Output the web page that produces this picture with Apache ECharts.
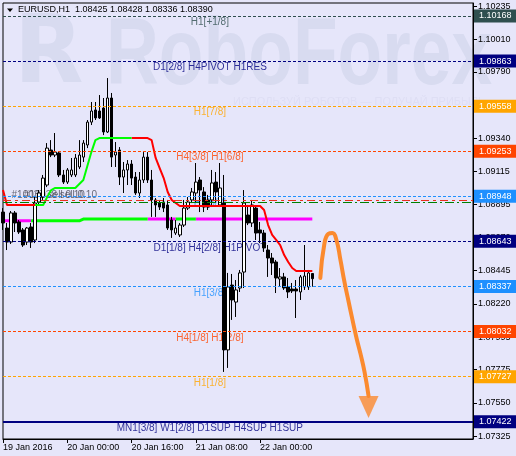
<!DOCTYPE html>
<html><head><meta charset="utf-8">
<script src="https://cdn.jsdelivr.net/npm/echarts@6/dist/echarts.min.js"></script>
<style>html,body{margin:0;padding:0;background:#e6e6fa}#c{width:516px;height:456px}</style>
</head><body><div id="c"></div>
<script>
// ---------- DATA ----------
const symbolName = 'EURUSD,H1';
const tickLabels = ['19 Jan 2016', '20 Jan 00:00', '20 Jan 16:00', '21 Jan 08:00', '22 Jan 00:00'];
const barsTotal = 118; // hourly slots shown on the axis (data + empty future space)
const yTicks = [1.10235, 1.10010, 1.09790, 1.09565, 1.09340, 1.09115, 1.08895, 1.08670, 1.08445, 1.08220, 1.07995, 1.07775, 1.07550, 1.07325];

const opens = [1.08841,1.08733,1.08638,1.08835,1.08774,1.08720,1.08638,1.08740,1.08652,1.08909,
1.08943,1.09024,1.09261,1.09227,1.09241,1.09092,1.09044,1.09092,1.09092,1.09146,
1.09213,1.09295,1.09450,1.09532,1.09525,1.09545,1.09383,1.09613,1.09227,1.09261,
1.09078,1.09126,1.09166,1.09078,1.08970,1.09058,1.09213,1.09058,1.08923,1.08902,
1.08909,1.08889,1.08787,1.08699,1.08686,1.08753,1.08868,1.08923,1.08970,1.09058,
1.08977,1.08923,1.08923,1.09044,1.08889,1.08902,1.07908,1.08347,1.08232,1.08327,
1.08435,1.08821,1.08767,1.08868,1.08720,1.08699,1.08584,1.08530,1.08503,1.08388,
1.08402,1.08334,1.08320,1.08320,1.08300,1.08334,1.08334,1.08425];
const closes = [1.08767,1.08638,1.08835,1.08767,1.08706,1.08618,1.08733,1.08638,1.08902,1.08970,
1.09071,1.09274,1.09227,1.09247,1.09092,1.09044,1.09126,1.09126,1.09207,1.09227,
1.09308,1.09450,1.09525,1.09478,1.09478,1.09383,1.09613,1.09213,1.09247,1.09078,
1.09126,1.09166,1.09071,1.08970,1.09058,1.09213,1.09058,1.08923,1.08889,1.08875,
1.08868,1.08733,1.08720,1.08733,1.08753,1.08868,1.08909,1.08977,1.09044,1.08990,
1.08875,1.08875,1.09038,1.08977,1.09004,1.07908,1.08334,1.08246,1.08314,1.08429,
1.08902,1.08767,1.08889,1.08699,1.08699,1.08598,1.08530,1.08496,1.08395,1.08402,
1.08327,1.08300,1.08307,1.08307,1.08402,1.08408,1.08429,1.08390];
const highs = [1.08868,1.08767,1.08848,1.08848,1.08787,1.08733,1.08740,1.08767,1.08943,1.08990,
1.09092,1.09308,1.09328,1.09376,1.09247,1.09126,1.09139,1.09207,1.09234,1.09328,
1.09328,1.09464,1.09586,1.09586,1.09633,1.09613,1.09748,1.09647,1.09315,1.09281,
1.09180,1.09193,1.09193,1.09112,1.09112,1.09247,1.09247,1.09126,1.08936,1.08923,
1.08936,1.08923,1.08808,1.08787,1.08767,1.08923,1.08943,1.09004,1.09173,1.09078,
1.09010,1.08957,1.09126,1.09112,1.09173,1.09092,1.08429,1.08422,1.08381,1.08449,
1.08990,1.08889,1.08923,1.08882,1.08774,1.08720,1.08618,1.08564,1.08517,1.08462,
1.08429,1.08395,1.08361,1.08381,1.08415,1.08618,1.08449,1.08428];
const lows = [1.08720,1.08584,1.08625,1.08706,1.08693,1.08605,1.08618,1.08598,1.08631,1.08889,
1.08923,1.09010,1.09213,1.09213,1.09078,1.09031,1.09031,1.09078,1.09078,1.09132,
1.09180,1.09274,1.09430,1.09464,1.09471,1.09362,1.09376,1.09146,1.09146,1.09024,
1.08970,1.09024,1.09024,1.08957,1.08936,1.09038,1.09038,1.08808,1.08808,1.08855,
1.08841,1.08720,1.08666,1.08686,1.08672,1.08740,1.08855,1.08902,1.08902,1.08841,
1.08841,1.08855,1.08875,1.08909,1.08875,1.07759,1.07786,1.08111,1.08131,1.08300,
1.08327,1.08753,1.08740,1.08652,1.08631,1.08571,1.08402,1.08415,1.08293,1.08334,
1.08314,1.08259,1.08293,1.08124,1.08246,1.08314,1.08314,1.08336];

// upper trailing line: red (down) / green (up) parts
const trendRed = [1.08990,1.08889,1.08889,1.08889,1.08889,1.08889,1.08889,1.08889,1.08889,null,
null,null,null,null,null,null,null,null,null,null,
null,null,null,null,null,null,null,null,null,null,
null,null,1.09342,1.09342,1.09342,1.09342,1.09342,1.09328,1.09207,1.09139,
1.09071,1.08977,1.08923,1.08902,1.08882,1.08882,1.08882,1.08882,1.08882,1.08882,
1.08882,1.08882,1.08882,1.08882,1.08882,1.08882,1.08882,1.08882,1.08882,1.08882,
1.08882,1.08882,1.08882,1.08882,1.08882,1.08855,1.08753,1.08686,1.08652,1.08618,
1.08550,1.08503,1.08462,1.08442,1.08442,1.08442,1.08442,1.08442];
const trendGreen = [null,null,null,null,null,null,null,null,1.08889,1.08889,
1.08889,1.08943,1.08990,1.09004,1.09004,1.09004,1.09004,1.09004,1.09004,1.09031,
1.09058,1.09153,1.09247,1.09328,1.09342,1.09342,1.09342,1.09342,1.09342,1.09342,
1.09342,1.09342,1.09342];
// lower line: magenta / green parts
const lowerMagenta = [1.08782,1.08782,1.08782,1.08782,1.08782,1.08782,1.08782,1.08782,null,null,
null,null,null,null,null,null,null,null,null,null,
null,null,null,null,null,null,null,null,null,null,
null,null,null,null,null,null,1.08794,1.08794,1.08794,1.08794,
1.08794,1.08794,1.08794,1.08794,null,null,null,null,1.08794,1.08794,
1.08794,1.08794,1.08794,1.08794,1.08794,1.08794,1.08794,1.08794,1.08794,1.08794,
1.08794,1.08794,1.08794,1.08794,1.08794,1.08794,1.08794,1.08794,1.08794,1.08794,
1.08794,1.08794,1.08794,1.08794,1.08794,1.08794,1.08794,1.08794];
const lowerGreen = [null,null,null,null,null,null,null,1.08782,1.08782,1.08782,
1.08782,1.08782,1.08782,1.08782,1.08782,1.08782,1.08782,1.08782,1.08782,1.08782,
1.08794,1.08794,1.08794,1.08794,1.08794,1.08794,1.08794,1.08794,1.08794,1.08794,
1.08794,1.08794,1.08794,1.08794,1.08794,1.08794,1.08794,null,null,null,
null,null,null,1.08794,1.08794,1.08794,1.08794,1.08794,1.08794];

// Murrey-style levels
const levelValues = [1.10168, 1.09863, 1.09558, 1.09253, 1.08948, 1.08643, 1.08337, 1.08032, 1.07727, 1.07422];
const levelNames = ['H1[+1/8]', 'D1[2/8] H4PIVOT H1RES', 'H1[7/8]', 'H4[3/8] H1[6/8]', 'H1[5/8]',
  'D1[1/8] H4[2/8] H1PIVOT', 'H1[3/8]', 'H4[1/8] H1[2/8]', 'H1[1/8]', 'MN1[3/8] W1[2/8] D1SUP H4SUP H1SUP'];
const currentPrice = 1.08390;
const orderLevels = [1.08923, 1.08906];
const orderTexts = ['#10037 sell 0.10', '#10038 sell 0.10'];
const orderTextPrice = 1.08956;

// forecast arrow path (bar index, price)
const arrowIdx = [79, 80, 81, 82, 83, 84, 85, 86, 87, 88, 89, 90, 91];
const arrowVals = [1.08395, 1.08625, 1.08693, 1.08699, 1.08652, 1.08517, 1.08368, 1.08239, 1.08111, 1.07989, 1.07881, 1.07759, 1.07596];

// ---------- STYLE / BUILD ----------
const levelColors = ['#2f4f4f', '#000080', '#ffa500', '#ff4500', '#1e90ff', '#000080', '#1e90ff', '#ff4500', '#ffa500', '#000080'];
const FONT = 'Liberation Sans';
const categories = [];
for (let i = 0; i < barsTotal; i++) categories.push('h' + i);
const candleData = opens.map((o, i) => [o, closes[i], lows[i], highs[i]]);

const boxLabel = (bg) => ({
  show: true, position: 'end', distance: 1, color: '#fff', backgroundColor: bg,
  fontSize: 9, fontFamily: FONT, lineHeight: 10, padding: [2, 8, 1, 5]
});

const markLines = levelValues.map((v, k) => ({
  yAxis: v,
  lineStyle: { color: levelColors[k], type: k === 9 ? 'solid' : [3, 2], width: k === 9 ? 2 : 1 },
  label: Object.assign(boxLabel(levelColors[k]), { formatter: v.toFixed(5) })
}));
markLines.push({ yAxis: orderLevels[0], lineStyle: { color: '#e8301c', type: [8, 4, 3, 4], width: 1 }, label: { show: false } });
markLines.push({ yAxis: orderLevels[1], lineStyle: { color: '#008000', type: [9, 3, 2, 3], width: 1 }, label: { show: false } });
markLines.push({ yAxis: currentPrice, lineStyle: { opacity: 0 }, label: Object.assign(boxLabel('#000'), { formatter: currentPrice.toFixed(5) }) });

const textIdx = 51;
const last = opens.length - 1;
const headerText = symbolName + '  ' + [opens[last], highs[last], lows[last], closes[last]].map(v => v.toFixed(5)).join(' ');

const option = {
  animation: false,
  backgroundColor: '#e6e6fa',
  grid: { left: 3, right: 43, top: 3, bottom: 17, show: true, borderColor: '#000', borderWidth: 1, backgroundColor: 'transparent' },
  xAxis: {
    type: 'category', data: categories, boundaryGap: false,
    axisLine: { show: true, lineStyle: { color: '#000' } },
    axisTick: { show: true, length: 4, lineStyle: { color: '#000' }, interval: (i) => i % 16 === 0 && i / 16 < tickLabels.length },
    axisLabel: {
      show: true, interval: (i) => i % 16 === 0 && i / 16 < tickLabels.length,
      formatter: (v, i) => tickLabels[i / 16] || '', align: 'left', margin: 4,
      color: '#000', fontSize: 9, fontFamily: FONT
    },
    splitLine: { show: false }
  },
  yAxis: {
    type: 'value', position: 'right', min: 1.07305, max: 1.10256,
    axisLine: { show: true, lineStyle: { color: '#000' } },
    axisTick: { show: true, length: 4, lineStyle: { color: '#000' }, customValues: yTicks },
    axisLabel: { show: true, customValues: yTicks, formatter: (v) => v.toFixed(5), color: '#000', fontSize: 9, fontFamily: FONT, margin: 5 },
    splitLine: { show: false }
  },
  graphic: [
    { type: 'text', x: 14, y: 10, z: -10, scaleX: 0.95, silent: true, style: { text: 'R', fontSize: 95, fontWeight: 'bold', fontFamily: 'DejaVu Sans', fill: '#d8dbf0', verticalAlign: 'top' } },
    { type: 'text', x: 106, y: 10, z: -10, scaleX: 0.77, silent: true, style: { text: 'RoboForex', fontSize: 95, fontWeight: 'bold', fontFamily: FONT, fill: '#d8dbf0', verticalAlign: 'top' } },
    { type: 'text', x: 233, y: 96, z: -10, silent: true, style: { text: 'ИСПОЛЬЗУЙ РОБОТОВ — ПОЛУЧАЙ ПРИБЫЛЬ', fontSize: 11, fontFamily: FONT, fill: '#dedef4', verticalAlign: 'top' } },
    { type: 'polygon', silent: true, shape: { points: [[7, 8.5], [13, 8.5], [10, 12]] }, style: { fill: '#000' } },
    { type: 'text', x: 18, y: 10, silent: true, style: { text: headerText, fontSize: 9, fontFamily: FONT, fill: '#000', verticalAlign: 'middle' } }
  ],
  series: [
    {
      name: 'levelsText', type: 'scatter', z: 1, silent: true, symbolSize: 1,
      itemStyle: { color: 'rgba(0,0,0,0)' },
      data: levelValues.map((v, k) => ({ value: [textIdx, v], name: levelNames[k], label: { color: levelColors[k] } })),
      label: { show: true, position: 'bottom', distance: 1, offset: [2, 0], formatter: (p) => p.name, fontSize: 10, fontFamily: FONT },
      markLine: { silent: true, precision: 5, symbol: ['none', 'none'], data: markLines }
    },
    {
      name: 'orders', type: 'scatter', z: 1, silent: true, symbolSize: 1,
      itemStyle: { color: 'rgba(0,0,0,0)' },
      data: orderTexts.map((t, k) => ({ value: [k === 0 ? 2 : 5, orderTextPrice], name: t })),
      label: { show: true, position: 'right', distance: 0, formatter: (p) => p.name, fontSize: 10, fontFamily: FONT, color: '#4a4a58' }
    },
    { type: 'line', z: 2, data: lowerMagenta, symbol: 'none', lineStyle: { color: '#ff00ff', width: 3 }, silent: true },
    { type: 'line', z: 2, data: lowerGreen, symbol: 'none', lineStyle: { color: '#00ff00', width: 3 }, silent: true },
    {
      name: 'EURUSD', type: 'candlestick', z: 3, data: candleData, barWidth: 3,
      itemStyle: { color: '#ffffff', color0: '#000000', borderColor: '#000000', borderColor0: '#000000', borderWidth: 1 }
    },
    { type: 'line', z: 4, data: trendRed, symbol: 'none', lineStyle: { color: '#ff0000', width: 2 }, silent: true },
    { type: 'line', z: 4, data: trendGreen, symbol: 'none', lineStyle: { color: '#00ff00', width: 2 }, silent: true },
    {
      type: 'line', z: 5, smooth: 0.5, symbol: 'none', silent: true,
      data: arrowIdx.map((x, k) => [x, arrowVals[k]]),
      lineStyle: { color: '#fb8a2e', width: 4, cap: 'round' }
    },
    {
      type: 'scatter', z: 5, silent: true, symbol: 'triangle', symbolRotate: 180, symbolSize: [20, 22], symbolOffset: [0, 11],
      data: [[arrowIdx[arrowIdx.length - 1], arrowVals[arrowVals.length - 1]]],
      itemStyle: { color: '#fb8a2e' }
    }
  ]
};
const chart = echarts.init(document.getElementById('c'), null, { renderer: 'canvas', width: 516, height: 456 });
chart.setOption(option);
</script>
</body></html>
